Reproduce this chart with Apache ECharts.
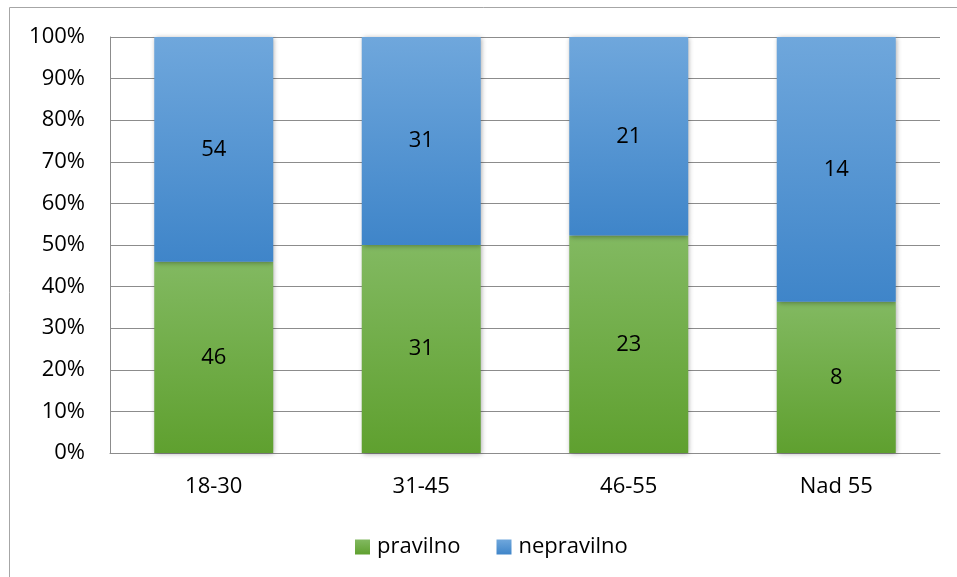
<!DOCTYPE html>
<html><head><meta charset="utf-8">
<script src="https://cdn.jsdelivr.net/npm/echarts@6/dist/echarts.min.js"></script>
<style>html,body{margin:0;padding:0;background:#fff}#c{width:957px;height:577px}</style>
</head><body><div id="c"></div>
<script>
const categories = ['18-30', '31-45', '46-55', 'Nad 55'];
const pravilno = [46, 31, 23, 8];
const nepravilno = [54, 31, 21, 14];
const yTicks = [0, 10, 20, 30, 40, 50, 60, 70, 80, 90, 100];

const totals = categories.map((_, i) => pravilno[i] + nepravilno[i]);
const pct = (arr) => arr.map((v, i) => ({ value: v / totals[i] * 100, raw: v }));

const font = '"Open Sans", "Noto Sans", sans-serif';
const fs = 22;
const chart = echarts.init(document.getElementById('c'));
const grad = (top, bot) => new echarts.graphic.LinearGradient(0, 0, 0, 1, [{offset: 0, color: top}, {offset: 1, color: bot}]);
const greenG = grad('#82b961', '#5fa02f');
const blueG = grad('#6fa7dc', '#3f85c9');

chart.setOption({
  animation: false,
  backgroundColor: '#fff',
  graphic: [
    {type: 'line', shape: {x1: 9.5, y1: 7.5, x2: 957, y2: 7.5}, style: {stroke: '#a6a6a6', lineWidth: 1}, silent: true},
    {type: 'line', shape: {x1: 9.5, y1: 7.5, x2: 9.5, y2: 577}, style: {stroke: '#a6a6a6', lineWidth: 1}, silent: true}
  ],
  grid: {left: 110, right: 17, top: 37, bottom: 124, containLabel: false},
  legend: {
    top: 531, left: 350, itemWidth: 15, itemHeight: 15, itemGap: 36, icon: 'rect',
    textStyle: {fontFamily: font, fontSize: fs, color: '#000', padding: [0, 0, 0, 2]},
    data: [{name: 'pravilno', itemStyle: {color: greenG}}, {name: 'nepravilno', itemStyle: {color: blueG}}]
  },
  xAxis: {
    type: 'category', data: categories,
    axisLine: {lineStyle: {color: '#8c8c8c'}},
    axisTick: {show: false},
    axisLabel: {fontFamily: font, fontSize: fs, color: '#000', margin: 23}
  },
  yAxis: {
    type: 'value', min: 0, max: 100, interval: 10,
    axisLine: {show: true, lineStyle: {color: '#8c8c8c'}},
    axisTick: {show: false},
    splitLine: {lineStyle: {color: '#8c8c8c'}},
    axisLabel: {fontFamily: font, fontSize: fs, color: '#000', margin: 25,
      formatter: v => yTicks.includes(v) ? v + '%' : ''}
  },
  series: [
    {name: 'pravilno', type: 'bar', stack: 's', barWidth: 119, data: pct(pravilno),
     itemStyle: {color: greenG, shadowColor: 'rgba(0,0,0,0.35)', shadowBlur: 5, shadowOffsetX: 1, shadowOffsetY: 1},
     label: {show: true, position: 'inside', fontFamily: font, fontSize: fs, color: '#000', formatter: p => p.data.raw}},
    {name: 'nepravilno', type: 'bar', stack: 's', barWidth: 119, data: pct(nepravilno),
     itemStyle: {color: blueG, shadowColor: 'rgba(0,0,0,0.35)', shadowBlur: 5, shadowOffsetX: 1, shadowOffsetY: 1},
     label: {show: true, position: 'inside', fontFamily: font, fontSize: fs, color: '#000', formatter: p => p.data.raw}}
  ]
});
</script></body></html>
